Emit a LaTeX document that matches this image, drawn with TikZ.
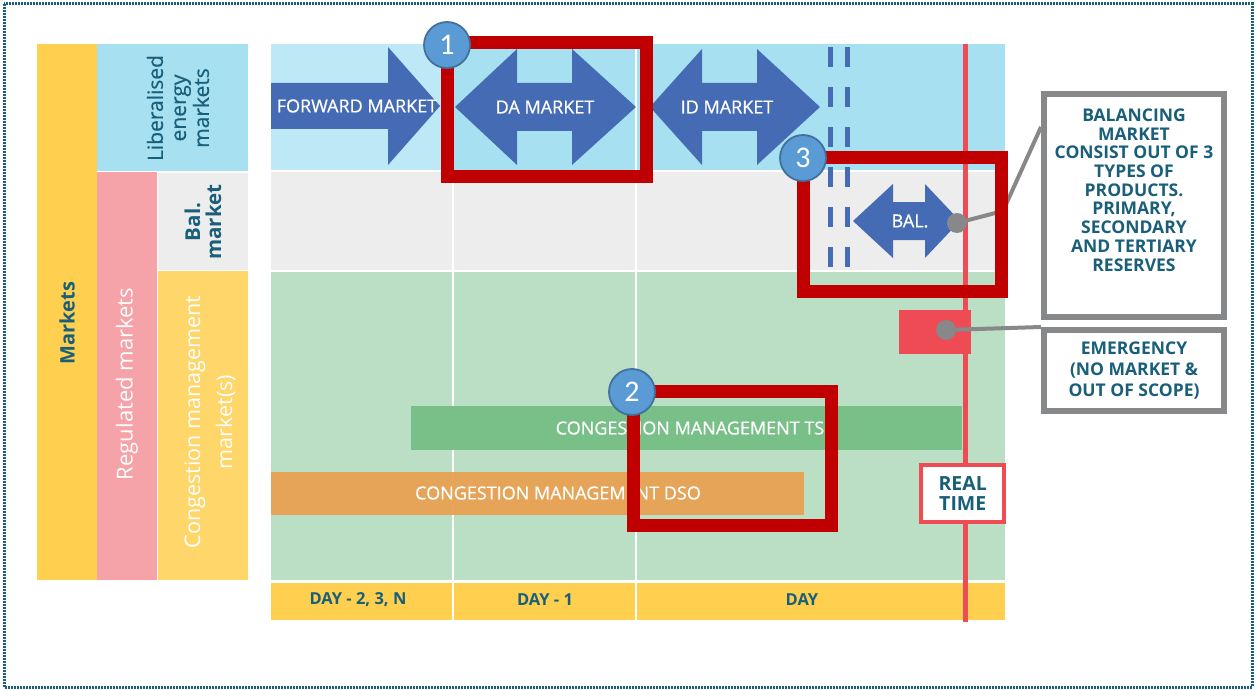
\documentclass[tikz,border=0pt]{standalone}
\usepackage{fontspec}
\setmainfont{Open Sans}
\newfontfamily\semifont[FakeBold=0.6]{Open Sans}
\newfontfamily\numfont{Carlito}
\definecolor{teal}{HTML}{1A5F7A}
\definecolor{mkyellow}{HTML}{FFCF4F}
\definecolor{libblue}{HTML}{A6E0F1}
\definecolor{fwdblue}{HTML}{BDE8F5}
\definecolor{regpink}{HTML}{F5A3A8}
\definecolor{balgray}{HTML}{EDEDED}
\definecolor{congyellow}{HTML}{FFD669}
\definecolor{bandgreen}{HTML}{BBDFC4}
\definecolor{tsogreen}{HTML}{78C087}
\definecolor{dsoorange}{HTML}{E8A153}
\definecolor{arrowblue}{HTML}{466BB5}
\definecolor{rtred}{HTML}{EF4B55}
\definecolor{hlred}{HTML}{C00000}
\definecolor{callgray}{HTML}{87888A}
\definecolor{numfill}{HTML}{5B9BD5}
\definecolor{numedge}{HTML}{41719C}
\begin{document}
\begin{tikzpicture}[x=1pt,y=-1pt,
  whitelbl/.style={text=white,inner sep=0pt,font=\semifont\fontsize{18}{21}\selectfont},
  sidelbl/.style={inner sep=0pt,rotate=90,align=center},
  daylbl/.style={text=teal,inner sep=0pt,font=\bfseries\fontsize{16.5}{19}\selectfont},
  notelbl/.style={text=teal,inner sep=0pt,align=center,font=\bfseries\fontsize{17.5}{18.7}\selectfont},
  callbox/.style={draw=callgray,line width=6pt,fill=white},
  hlbox/.style={draw=hlred,line width=13pt},
  numdot/.style={circle,fill=numfill,draw=numedge,line width=1.8pt,minimum size=46pt,inner sep=0pt,text=white,font=\numfont\fontsize{30}{30}\selectfont},
  calldot/.style={circle,fill=callgray,minimum size=20pt,inner sep=0pt},
  calline/.style={draw=callgray,line width=4pt},
  sep/.style={draw=white,line width=1.5pt}]
\useasboundingbox (0,0) rectangle (1256,690);
% outer dotted frame
\draw[teal,line width=3pt,dash pattern=on 2pt off 1pt] (4,4) rectangle (1252,687);

% row headers
\fill[mkyellow] (37,44) rectangle (97,580);
\fill[libblue] (97,44) rectangle (248,171);
\fill[regpink] (97,172) rectangle (157,580);
\fill[balgray] (158,173) rectangle (248,270);
\fill[congyellow] (158,271) rectangle (248,580);
\node[sidelbl,text=teal,font=\bfseries\fontsize{20}{23}\selectfont] (mk) at (67,323) {Markets};
\node[sidelbl,text=teal,font=\semifont\fontsize{21}{23}\selectfont] (lib) at (178,108) {Liberalised\\energy\\markets};
\node[sidelbl,text=teal,font=\bfseries\fontsize{20.5}{21}\selectfont] (balh) at (203,222) {Bal.\\market};
\node[sidelbl,text=white,font=\fontsize{22}{23}\selectfont] (reg) at (127,384) {Regulated markets};
\node[sidelbl,text=white,font=\fontsize{21.5}{32}\selectfont] (cong) at (210,422) {Congestion management\\market(s)};

% timeline bands
\fill[fwdblue] (271,44) rectangle (453,170);
\fill[libblue] (453,44) rectangle (1005,170);
\fill[balgray] (271,172) rectangle (1005,270);
\fill[bandgreen] (271,272) rectangle (1005,580);
\fill[mkyellow] (271,583) rectangle (1005,620);
\draw[sep] (453,44) -- (453,620);
\draw[sep] (636,44) -- (636,620);
\node[daylbl] (d2) at (358,600) {DAY - 2, 3, N};
\node[daylbl] (d1) at (545,600) {DAY - 1};
\node[daylbl] (d0) at (802,600) {DAY};

% congestion management bars
\fill[tsogreen] (411,406) rectangle (962,450);
\fill[dsoorange,opacity=0.95] (271,472) rectangle (804,515);
\node[whitelbl] (tso) at (697,428) {CONGESTION MANAGEMENT TSO};
\node[whitelbl] (dso) at (558,493) {CONGESTION MANAGEMENT DSO};

% market arrows
\fill[arrowblue] (271,83) -- (388,83) -- (388,47) -- (440,106) -- (388,165) -- (388,129) -- (271,129) -- cycle;
\fill[arrowblue] (455,107) -- (517,49) -- (517,83) -- (572,83) -- (572,49) -- (636,107) -- (572,165) -- (572,131) -- (517,131) -- (517,165) -- cycle;
\fill[arrowblue] (650,107) -- (702,49) -- (702,83) -- (757,83) -- (757,49) -- (820,107) -- (757,165) -- (757,131) -- (702,131) -- (702,165) -- cycle;
\fill[arrowblue] (853,221) -- (893,184) -- (893,202) -- (925,202) -- (925,184) -- (960,221) -- (925,258) -- (925,240) -- (893,240) -- (893,258) -- cycle;
\node[whitelbl] (fwd) at (357,106) {FORWARD MARKET};
\node[whitelbl] (da) at (545,107) {DA MARKET};
\node[whitelbl] (id) at (727,107) {ID MARKET};
\node[whitelbl] (bal) at (910,221) {BAL.};

% gate closure
\draw[arrowblue,line width=5pt,dash pattern=on 20pt off 20pt] (830,47) -- (830,267);
\draw[arrowblue,line width=5pt,dash pattern=on 20pt off 20pt] (847,47) -- (847,267);

% real time
\draw[rtred,line width=5pt] (965,44) -- (965,622);
\fill[rtred] (899,310) rectangle (971,354);
\node[draw=rtred,line width=4pt,fill=white,minimum width=83pt,minimum height=57pt,inner sep=0pt,align=center,text=teal,font=\bfseries\fontsize{19.5}{20.5}\selectfont] (rt) at (962.75,493.75) {REAL\\TIME};

% callouts
\node[callbox,minimum width=180pt,minimum height=222pt] (balnote) at (1134,205.5) {};
\node[callbox,minimum width=180pt,minimum height=80.5pt] (emnote) at (1134,370.25) {};
\node[notelbl] (baltxt) at (1134,190) {BALANCING\\MARKET\\CONSIST OUT OF 3\\TYPES OF\\PRODUCTS.\\PRIMARY,\\SECONDARY\\AND TERTIARY\\RESERVES};
\node[notelbl,font=\bfseries\fontsize{17.5}{21}\selectfont] (emtxt) at (1134,371) {EMERGENCY\\(NO MARKET \&\\OUT OF SCOPE)};
\coordinate (bend) at (1003,211);
\draw[calline] (957,223) -- (bend) -- (balnote.north west |- 0,127);
\draw[calline] (946,330) -- (emnote.north west);
\node[calldot] (baldot) at (957,223) {};
\node[calldot] (emdot) at (946,330) {};

% highlighted areas
\draw[hlbox] (447.5,42.5) rectangle (646.5,176.5);
\draw[hlbox] (633,391) rectangle (831,525);
\draw[hlbox] (803.5,158) rectangle (1001.5,291.5);
\node[numdot] (n1) at (447,45) {1};
\node[numdot] (n2) at (632,392) {2};
\node[numdot] (n3) at (803,158) {3};
\end{tikzpicture}
\end{document}
